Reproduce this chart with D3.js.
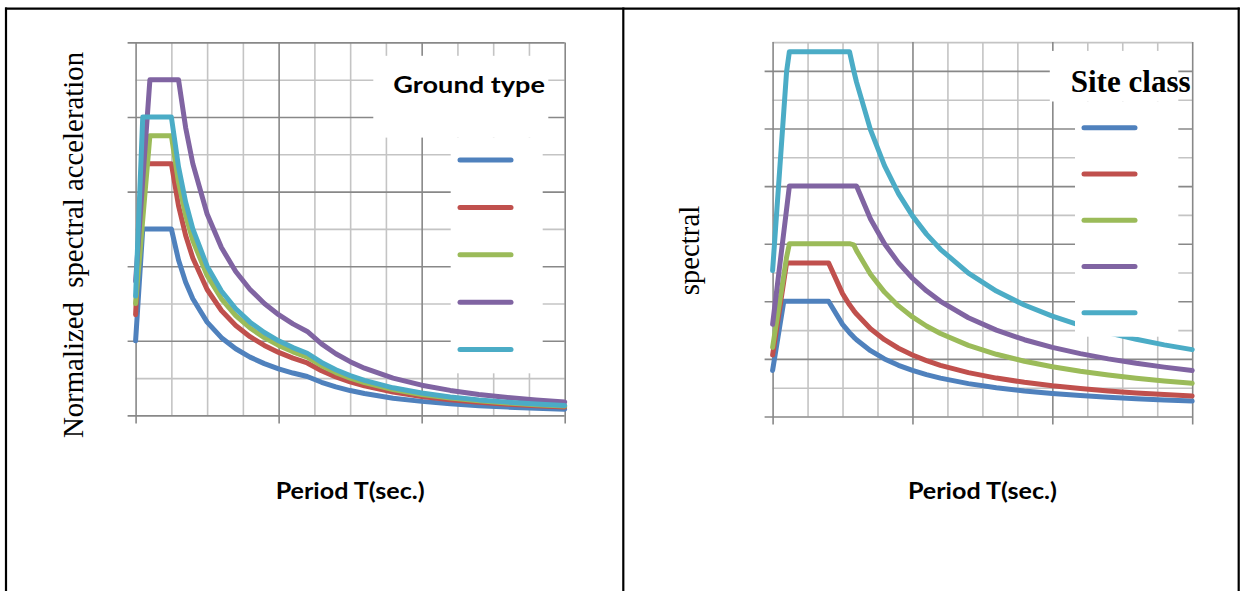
<!DOCTYPE html>
<html><head><meta charset="utf-8">
<script src="https://cdn.jsdelivr.net/npm/d3@7/dist/d3.min.js"></script>
<style>body{margin:0;background:#fff}svg{display:block}</style>
</head><body>
<script>
// ---------- DATA ----------
// Left chart: "Ground type" (normalized spectral acceleration vs period)
const groundNames = ["A", "B", "C", "D", "E"];
const groundPeriods = [0, 0.05, 0.1, 0.15, 0.2, 0.25, 0.3, 0.35, 0.4, 0.5, 0.6, 0.7, 0.8, 0.9, 1.0, 1.1, 1.2, 1.3, 1.4, 1.5, 1.6, 1.8, 2.0, 2.2, 2.4, 2.6, 2.8, 3.0];
const groundA = [1.0, 2.5, 2.5, 2.5, 2.5, 2.5, 2.083, 1.786, 1.563, 1.25, 1.042, 0.893, 0.781, 0.694, 0.625, 0.568, 0.521, 0.444, 0.383, 0.333, 0.293, 0.231, 0.188, 0.155, 0.130, 0.111, 0.096, 0.083];
const groundB = [1.35, 3.375, 3.375, 3.375, 3.375, 3.375, 2.813, 2.411, 2.109, 1.688, 1.406, 1.205, 1.055, 0.938, 0.844, 0.767, 0.703, 0.599, 0.517, 0.45, 0.396, 0.313, 0.253, 0.209, 0.176, 0.150, 0.129, 0.113];
const groundC = [1.5, 2.625, 3.75, 3.75, 3.75, 3.75, 3.125, 2.679, 2.344, 1.875, 1.563, 1.339, 1.172, 1.042, 0.938, 0.852, 0.781, 0.666, 0.574, 0.5, 0.439, 0.347, 0.281, 0.232, 0.195, 0.166, 0.143, 0.125];
const groundD = [1.8, 3.15, 4.5, 4.5, 4.5, 4.5, 4.5, 3.857, 3.375, 2.7, 2.25, 1.929, 1.688, 1.5, 1.35, 1.227, 1.125, 0.959, 0.827, 0.72, 0.633, 0.5, 0.405, 0.335, 0.281, 0.240, 0.207, 0.18];
const groundE = [1.6, 4.0, 4.0, 4.0, 4.0, 4.0, 3.333, 2.857, 2.5, 2.0, 1.667, 1.429, 1.25, 1.111, 1.0, 0.909, 0.833, 0.710, 0.612, 0.533, 0.469, 0.370, 0.3, 0.248, 0.208, 0.178, 0.153, 0.133];

// Right chart: "Site class"
const siteNames = ["A", "B", "C", "D", "E"];
const sitePeriods = [0, 0.08, 0.1, 0.12, 0.2, 0.3, 0.4, 0.5, 0.55, 0.58, 0.6, 0.7, 0.8, 0.9, 1.0, 1.1, 1.2, 1.4, 1.6, 1.8, 2.0, 2.2, 2.4, 2.6, 2.8, 3.0];
const siteA = [0.8, 2.0, 2.0, 2.0, 2.0, 2.0, 2.0, 1.6, 1.455, 1.379, 1.333, 1.143, 1.0, 0.889, 0.8, 0.727, 0.667, 0.571, 0.5, 0.444, 0.4, 0.364, 0.333, 0.308, 0.286, 0.267];
const siteB = [1.067, 2.347, 2.667, 2.667, 2.667, 2.667, 2.667, 2.133, 1.939, 1.839, 1.778, 1.524, 1.333, 1.185, 1.067, 0.970, 0.889, 0.762, 0.667, 0.593, 0.533, 0.485, 0.444, 0.410, 0.381, 0.356];
const siteC = [1.2, 2.452, 2.765, 3.0, 3.0, 3.0, 3.0, 3.0, 3.0, 2.98, 2.88, 2.469, 2.16, 1.92, 1.728, 1.571, 1.44, 1.234, 1.08, 0.96, 0.864, 0.785, 0.72, 0.665, 0.617, 0.576];
const siteD = [1.6, 3.2, 3.6, 4.0, 4.0, 4.0, 4.0, 4.0, 4.0, 4.0, 4.0, 3.429, 3.0, 2.667, 2.4, 2.182, 2.0, 1.714, 1.5, 1.333, 1.2, 1.091, 1.0, 0.923, 0.857, 0.8];
const siteE = [2.533, 5.297, 5.988, 6.333, 6.333, 6.333, 6.333, 6.333, 6.333, 6.005, 5.805, 4.976, 4.354, 3.870, 3.483, 3.166, 2.903, 2.488, 2.177, 1.935, 1.742, 1.583, 1.451, 1.340, 1.244, 1.161];

// Axis ticks (no tick labels are shown in the picture)
const periodMajorTicks = [0, 1, 2, 3];
const periodMinorTicks = [0.25, 0.5, 0.75, 1.25, 1.5, 1.75, 2.25, 2.5, 2.75];
const groundMajorTicks = [0, 1, 2, 3, 4, 5];
const groundMinorTicks = [0.5, 1.5, 2.5, 3.5, 4.5];
const siteMajorTicks = [0, 1, 2, 3, 4, 5, 6];
const siteMinorTicks = [0.5, 1.5, 2.5, 3.5, 4.5, 5.5, 6.5];

const seriesColors = ["#4F81BD", "#C0504D", "#9BBB59", "#8064A2", "#4BACC6"];

// ---------- DRAWING ----------
const W = 1240, H = 591;
const svg = d3.select("body").append("svg").attr("width", W).attr("height", H);
svg.append("rect").attr("width", W).attr("height", H).attr("fill", "#fff");

// Frame (table borders)
const frame = svg.append("g").attr("stroke", "#000").attr("stroke-width", 2.2);
frame.append("line").attr("x1", 5).attr("x2", 1239.8).attr("y1", 8.7).attr("y2", 8.7);
frame.append("line").attr("x1", 6).attr("x2", 6).attr("y1", 7.6).attr("y2", H);
frame.append("line").attr("x1", 623.3).attr("x2", 623.3).attr("y1", 7.6).attr("y2", H);
frame.append("line").attr("x1", 1238.7).attr("x2", 1238.7).attr("y1", 7.6).attr("y2", H);

const MAJOR = "#888888", MINOR = "#c4c4c4";

function drawChart(cfg) {
  const x = d3.scaleLinear().domain([0, 3]).range([cfg.x0, cfg.x1]);
  const y = d3.scaleLinear().domain([0, cfg.yMax]).range([cfg.y0, cfg.y1]);
  const w = cfg.x1 - cfg.x0, h = cfg.y0 - cfg.y1;
  const g = svg.append("g");

  const style = (sel, color) => {
    sel.select(".domain").remove();
    sel.selectAll(".tick line").attr("stroke", color).attr("stroke-width", 1.6);
    sel.selectAll(".tick text").remove();
  };
  // minor grid
  g.append("g").attr("transform", `translate(${cfg.x0},0)`)
    .call(d3.axisLeft(y).tickValues(cfg.yMinor).tickSize(-w).tickFormat(""))
    .call(s => style(s, MINOR));
  g.append("g").attr("transform", `translate(0,${cfg.y0})`)
    .call(d3.axisBottom(x).tickValues(periodMinorTicks).tickSize(-h).tickFormat(""))
    .call(s => style(s, MINOR));
  // major grid with outside tick marks
  g.append("g").attr("transform", `translate(${cfg.x0 - 8},0)`)
    .call(d3.axisLeft(y).tickValues(cfg.yMajor).tickSize(-(w + 8)).tickFormat(""))
    .call(s => style(s, MAJOR));
  g.append("g").attr("transform", `translate(0,${cfg.y0 + 8})`)
    .call(d3.axisBottom(x).tickValues(periodMajorTicks).tickSize(-(h + 8)).tickFormat(""))
    .call(s => style(s, MAJOR));

  // series
  const line = d3.line().x(d => x(d[0])).y(d => y(d[1]));
  cfg.series.forEach((vals, i) => {
    g.append("path")
      .datum(cfg.periods.map((t, k) => [t, vals[k]]))
      .attr("d", line)
      .attr("fill", "none")
      .attr("stroke", seriesColors[i])
      .attr("stroke-width", 5)
      .attr("stroke-linejoin", "round")
      .attr("stroke-linecap", "round");
  });

  // legend
  const L = cfg.legend;
  g.append("rect").attr("x", L.tx0).attr("y", L.ty0).attr("width", L.tx1 - L.tx0).attr("height", L.ty1 - L.ty0).attr("fill", "#fff");
  g.append("rect").attr("x", L.ex0).attr("y", L.ty1).attr("width", L.ex1 - L.ex0).attr("height", L.ey1 - L.ty1).attr("fill", "#fff");
  cfg.names.forEach((n, i) => {
    g.append("line")
      .attr("x1", L.lx0).attr("x2", L.lx1)
      .attr("y1", L.ly0 + i * L.dy).attr("y2", L.ly0 + i * L.dy)
      .attr("stroke", seriesColors[i]).attr("stroke-width", 5).attr("stroke-linecap", "round");
  });
  g.append("text").attr("x", L.titleX).attr("y", L.titleY)
    .attr("font-family", L.titleFont).attr("font-weight", "bold").attr("font-size", L.titleSize)
    .attr("textLength", L.titleLen).attr("lengthAdjust", "spacingAndGlyphs")
    .attr("fill", "#000").text(L.title);

  // axis titles
  g.append("text").attr("x", (cfg.x0 + cfg.x1) / 2).attr("y", 499.4)
    .attr("text-anchor", "middle").attr("font-family", "Lato, 'Open Sans', sans-serif")
    .attr("font-weight", "bold").attr("font-size", 23)
    .attr("textLength", 149).attr("lengthAdjust", "spacingAndGlyphs")
    .text("Period T(sec.)");
  g.append("text")
    .attr("transform", `translate(${cfg.ylabX},${cfg.ylabY}) rotate(-90)`)
    .attr("text-anchor", "middle").attr("font-family", "'Liberation Serif', 'Times New Roman', serif")
    .attr("font-size", 28.8).attr("xml:space", "preserve").style("white-space", "pre")
    .text(cfg.ylabel);
}

drawChart({
  x0: 135.6, x1: 564.7, y0: 415.4, y1: 42.4, yMax: 5,
  yMajor: groundMajorTicks, yMinor: groundMinorTicks,
  periods: groundPeriods, series: [groundA, groundB, groundC, groundD, groundE], names: groundNames,
  ylabel: "Normalized  spectral acceleration", ylabX: 83, ylabY: 245,
  legend: { tx0: 373.3, tx1: 548.3, ty0: 55.8, ty1: 137.6, ex0: 450.7, ex1: 542.7, ey1: 373.3,
            lx0: 460, lx1: 511, ly0: 160, dy: 47.4,
            title: "Ground type", titleX: 393.3, titleY: 93.3, titleFont: "Lato, 'Open Sans', sans-serif",
            titleSize: 23, titleLen: 151.7 }
});

drawChart({
  x0: 772.6, x1: 1192.2, y0: 416.5, y1: 42.1, yMax: 6.5,
  yMajor: siteMajorTicks, yMinor: siteMinorTicks,
  periods: sitePeriods, series: [siteA, siteB, siteC, siteD, siteE], names: siteNames,
  ylabel: "spectral", ylabX: 699, ylabY: 250.6,
  legend: { tx0: 1049.8, tx1: 1178.3, ty0: 50.9, ty1: 101.5, ex0: 1075, ex1: 1178.3, ey1: 336.7,
            lx0: 1084, lx1: 1135, ly0: 127.7, dy: 46.25,
            title: "Site class", titleX: 1070.7, titleY: 91.7, titleFont: "'Liberation Serif', 'Times New Roman', serif",
            titleSize: 31, titleLen: 120 }
});
</script>
</body></html>
